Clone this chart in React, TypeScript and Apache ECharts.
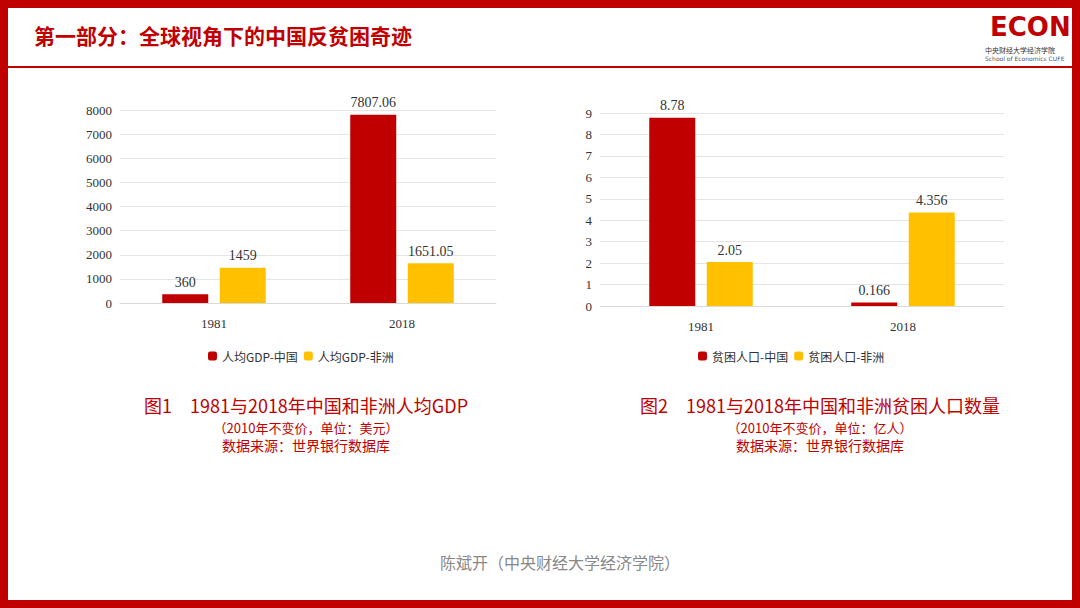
import React, { useEffect, useRef } from "react";
import * as echarts from "echarts";

const years = ["1981", "2018"];
const gdpChina = [360, 7807.06];
const gdpAfrica = [1459, 1651.05];
const gdpLabels = ["360", "7807.06"];
const gdpAfricaLabels = ["1459", "1651.05"];
const povChina = [8.78, 0.166];
const povAfrica = [2.05, 4.356];

const RED = "#C00000";
const YEL = "#FFC000";
const F = "'Liberation Serif','Noto Sans CJK SC',serif";
const CJK = "'Noto Sans CJK SC',sans-serif";

export default function App() {
  const ref = useRef<HTMLDivElement>(null);
  useEffect(() => {
    document.body.style.margin = "0";
    const c = echarts.init(ref.current!, null, { renderer: "svg" });
    const axisLabel = { color: "#333", fontFamily: F, fontSize: 13, formatter: (v: any) => String(v) };
    const cat = (i: number) => ({
      type: "category", gridIndex: i, data: years,
      axisLine: { lineStyle: { color: "#d9d9d9" } }, axisTick: { show: false },
      axisLabel: { color: "#333", fontFamily: F, fontSize: 13, margin: 14 },
    });
    const val = (i: number, max: number, interval: number) => ({
      type: "value", gridIndex: i, min: 0, max, interval,
      axisLabel, splitLine: { lineStyle: { color: "#e5e5e5" } },
    });
    const bar = (name: string, data: number[], color: string, i: number, labels?: string[]) => ({
      type: "bar", name, data, xAxisIndex: i, yAxisIndex: i, barWidth: 46, barGap: "25%",
      itemStyle: { color },
      label: {
        show: true, position: "top", color: "#333", fontFamily: F, fontSize: 14,
        formatter: labels ? (p: any) => labels[p.dataIndex] : undefined,
      },
    });
    const center = (x: number, y: number, text: string, size: number, fill = RED) => ({
      type: "text", x, y, style: { text, fill, font: `${size}px ${CJK}`, align: "center", verticalAlign: "middle" },
    });
    c.setOption({
      animation: false,
      grid: [
        { left: 120, top: 110, width: 376, height: 193 },
        { left: 600, top: 113, width: 404, height: 193 },
      ],
      xAxis: [cat(0), cat(1)],
      yAxis: [val(0, 8000, 1000), val(1, 9, 1)],
      legend: [
        { data: ["人均GDP-中国", "人均GDP-非洲"], left: 203, top: 345, itemWidth: 9, itemHeight: 9, itemGap: 6,
          textStyle: { fontFamily: CJK, fontSize: 12, color: "#333" } },
        { data: ["贫困人口-中国", "贫困人口-非洲"], left: 693, top: 345, itemWidth: 9, itemHeight: 9, itemGap: 6,
          textStyle: { fontFamily: CJK, fontSize: 12, color: "#333" } },
      ],
      series: [
        bar("人均GDP-中国", gdpChina, RED, 0, gdpLabels),
        bar("人均GDP-非洲", gdpAfrica, YEL, 0, gdpAfricaLabels),
        bar("贫困人口-中国", povChina, RED, 1),
        bar("贫困人口-非洲", povAfrica, YEL, 1),
      ],
      graphic: [
        { type: "rect", shape: { x: 0, y: 0, width: 1080, height: 608 }, style: { fill: "none", stroke: RED, lineWidth: 16 } },
        { type: "line", shape: { x1: 8, y1: 67, x2: 1072, y2: 67 }, style: { stroke: RED, lineWidth: 2 } },
        { type: "text", left: 34, top: 24, style: { text: "第一部分：全球视角下的中国反贫困奇迹", fill: RED, font: `bold 21px ${CJK}` } },
        { type: "text", left: 990, top: 14, style: { text: "ECON", fill: RED, font: `bold 26px 'DejaVu Sans'` } },
        { type: "text", left: 985, top: 46, style: { text: "中央财经大学经济学院", fill: "#333", font: `7px ${CJK}` } },
        { type: "text", left: 985, top: 55, style: { text: "School of Economics CUFE", fill: "#555", font: `6px 'DejaVu Sans'` } },
        center(306, 405, "图1　1981与2018年中国和非洲人均GDP", 18),
        center(306, 427, "（2010年不变价，单位：美元）", 13),
        center(306, 445, "数据来源：世界银行数据库", 14),
        center(820, 405, "图2　1981与2018年中国和非洲贫困人口数量", 18),
        center(820, 427, "（2010年不变价，单位：亿人）", 13),
        center(820, 445, "数据来源：世界银行数据库", 14),
        center(560, 562, "陈斌开（中央财经大学经济学院）", 16, "#888"),
      ],
    });
    return () => c.dispose();
  }, []);
  return <div ref={ref} style={{ width: 1080, height: 608, background: "#fff" }} />;
}
